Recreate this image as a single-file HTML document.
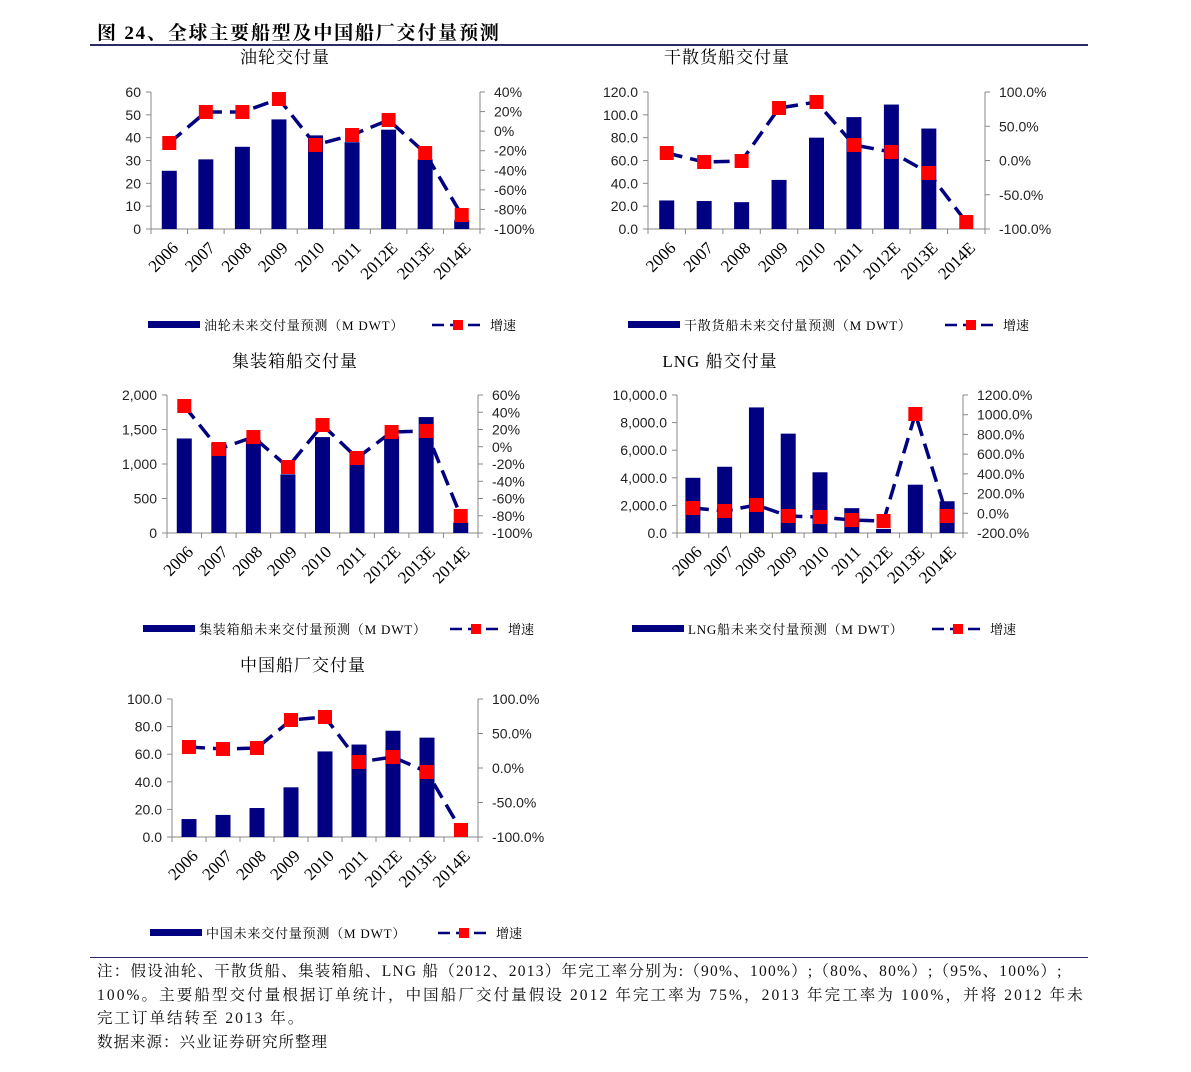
<!DOCTYPE html><html><head><meta charset="utf-8"><style>
body{margin:0;background:#fff;width:1191px;height:1072px;overflow:hidden;position:relative;font-family:"Liberation Serif","Noto Serif CJK SC",serif}
.t{position:absolute;left:97px;top:18px;font-size:19px;letter-spacing:1.8px;font-weight:bold;font-family:"Liberation Serif","Noto Serif CJK SC",serif}
.ln{position:absolute;left:90px;width:998px;height:2px;background:#2a2a6a}
.note{position:absolute;left:97px;top:960px;width:1000px;font-size:15.5px;line-height:23.5px;color:#111;white-space:nowrap}
svg{position:absolute;left:0;top:0}
</style></head><body>
<div class="t">图 24、全球主要船型及中国船厂交付量预测</div>
<div class="ln" style="top:44px"></div>
<div class="ln" style="top:957px;height:1px"></div>
<div class="note"><span style="letter-spacing:1.25px">注：假设油轮、干散货船、集装箱船、LNG 船（2012、2013）年完工率分别为:（90%、100%）;（80%、80%）;（95%、100%）;</span><br><span style="letter-spacing:2.1px">100%。主要船型交付量根据订单统计，中国船厂交付量假设 2012 年完工率为 75%，2013 年完工率为 100%，并将 2012 年未</span><br><span style="letter-spacing:2px">完工订单结转至 2013 年。</span><br><span style="letter-spacing:1px">数据来源：兴业证券研究所整理</span></div>
<svg id="s" width="1191" height="1072" xmlns="http://www.w3.org/2000/svg"></svg>
<script>
const C=[
{t:"油轮交付量",tx:285,ty:57,x0:151,x1:480,y0:92,y1:229,max:60,lt:["0","10","20","30","40","50","60"],rt:["40%","20%","0%","-20%","-40%","-60%","-80%","-100%"],b:[25.5,30.5,36,48,41,38,43.5,30.5,4],p:[143,112,112,99,145,135,120,153,215],lg:"油轮未来交付量预测（M DWT）",ly:325,lx:148,lx2:432},
{t:"干散货船交付量",tx:727,ty:57,x0:648,x1:985,y0:92,y1:229,max:120,lt:["0.0","20.0","40.0","60.0","80.0","100.0","120.0"],rt:["100.0%","50.0%","0.0%","-50.0%","-100.0%"],b:[25,24.5,23.5,43,80,98,109,88,0],p:[153,162,161,108,102,145,152,173,222],lg:"干散货船未来交付量预测（M DWT）",ly:325,lx:628,lx2:945},
{t:"集装箱船交付量",tx:295,ty:361,x0:167,x1:478,y0:395,y1:533,max:2000,lt:["0","500","1,000","1,500","2,000"],rt:["60%","40%","20%","0%","-20%","-40%","-60%","-80%","-100%"],b:[1370,1310,1350,850,1390,1150,1400,1680,150],p:[406,449,437,467,425,458,432,431,516],lg:"集装箱船未来交付量预测（M DWT）",ly:629,lx:143,lx2:450},
{t:"LNG 船交付量",tx:720,ty:361,x0:677,x1:963,y0:395,y1:533,max:10000,lt:["0.0","2,000.0","4,000.0","6,000.0","8,000.0","10,000.0"],rt:["1200.0%","1000.0%","800.0%","600.0%","400.0%","200.0%","0.0%","-200.0%"],b:[4000,4800,9100,7200,4400,1800,300,3500,2300],p:[508,511,505,516,517,520,521,414,516],lg:"LNG船未来交付量预测（M DWT）",ly:629,lx:632,lx2:932},
{t:"中国船厂交付量",tx:303,ty:665,x0:172,x1:478,y0:699,y1:837,max:100,lt:["0.0","20.0","40.0","60.0","80.0","100.0"],rt:["100.0%","50.0%","0.0%","-50.0%","-100.0%"],b:[13,16,21,36,62,67,77,72,0],p:[747,749,748,720,717,762,757,772,830],lg:"中国未来交付量预测（M DWT）",ly:933,lx:150,lx2:438}];
const X=["2006","2007","2008","2009","2010","2011","2012E","2013E","2014E"];
let h="";const F='font-family="Liberation Serif,Noto Serif CJK SC,serif"';
for(const c of C){
const H=c.y1-c.y0,W=(c.x1-c.x0)/9;
h+=`<text x="${c.tx}" y="${c.ty+6}" font-size="17" text-anchor="middle" letter-spacing="1" ${F}>${c.t}</text>`;
h+=`<g stroke="#888" stroke-width="1"><line x1="${c.x0}" y1="${c.y0}" x2="${c.x0}" y2="${c.y1}"/><line x1="${c.x1}" y1="${c.y0}" x2="${c.x1}" y2="${c.y1}"/><line x1="${c.x0}" y1="${c.y1}" x2="${c.x1}" y2="${c.y1}"/>`;
c.lt.forEach((s,i)=>{let y=c.y1-i*H/(c.lt.length-1);h+=`<line x1="${c.x0-5}" y1="${y}" x2="${c.x0}" y2="${y}"/>`});
c.rt.forEach((s,i)=>{let y=c.y0+i*H/(c.rt.length-1);h+=`<line x1="${c.x1}" y1="${y}" x2="${c.x1+5}" y2="${y}"/>`});
for(let i=0;i<=9;i++){let x=c.x0+i*W;h+=`<line x1="${x}" y1="${c.y1}" x2="${x}" y2="${c.y1+5}"/>`}
h+=`</g>`;
c.lt.forEach((s,i)=>{let y=c.y1-i*H/(c.lt.length-1);h+=`<text x="${c.x0-10}" y="${y+5}" font-size="14" text-anchor="end" fill="#222" font-family="Liberation Sans,sans-serif">${s}</text>`});
c.rt.forEach((s,i)=>{let y=c.y0+i*H/(c.rt.length-1);h+=`<text x="${c.x1+14}" y="${y+5}" font-size="14" fill="#222" font-family="Liberation Sans,sans-serif">${s}</text>`});
c.b.forEach((v,i)=>{if(!v)return;let bh=v/c.max*H,x=c.x0+(i+.5)*W-7.5;h+=`<rect x="${x}" y="${c.y1-bh}" width="15" height="${bh}" fill="#000080"/>`});
let pts=c.p.map((y,i)=>`${c.x0+(i+.5)*W},${y}`).join(" ");
h+=`<polyline points="${pts}" fill="none" stroke="#000080" stroke-width="3.5" stroke-dasharray="16,8"/>`;
c.p.forEach((y,i)=>{let x=c.x0+(i+.5)*W;h+=`<rect x="${x-7}" y="${y-7}" width="14" height="14" fill="#f00"/>`});
X.forEach((s,i)=>{let x=c.x0+(i+.5)*W+10,y=c.y1+20;h+=`<text x="${x}" y="${y}" font-size="17" text-anchor="end" transform="rotate(-45 ${x} ${y})" ${F}>${s}</text>`});
h+=`<rect x="${c.lx}" y="${c.ly-4}" width="52" height="7" fill="#000080"/><text x="${c.lx+56}" y="${c.ly+5}" font-size="13" letter-spacing="0.8" ${F}>${c.lg}</text>`;
h+=`<line x1="${c.lx2}" y1="${c.ly}" x2="${c.lx2+52}" y2="${c.ly}" stroke="#000080" stroke-width="2.5" stroke-dasharray="12,6"/><rect x="${c.lx2+21}" y="${c.ly-5}" width="10" height="10" fill="#f00"/><text x="${c.lx2+58}" y="${c.ly+5}" font-size="13" ${F}>增速</text>`;
}
document.getElementById("s").innerHTML=h;
</script></body></html>
